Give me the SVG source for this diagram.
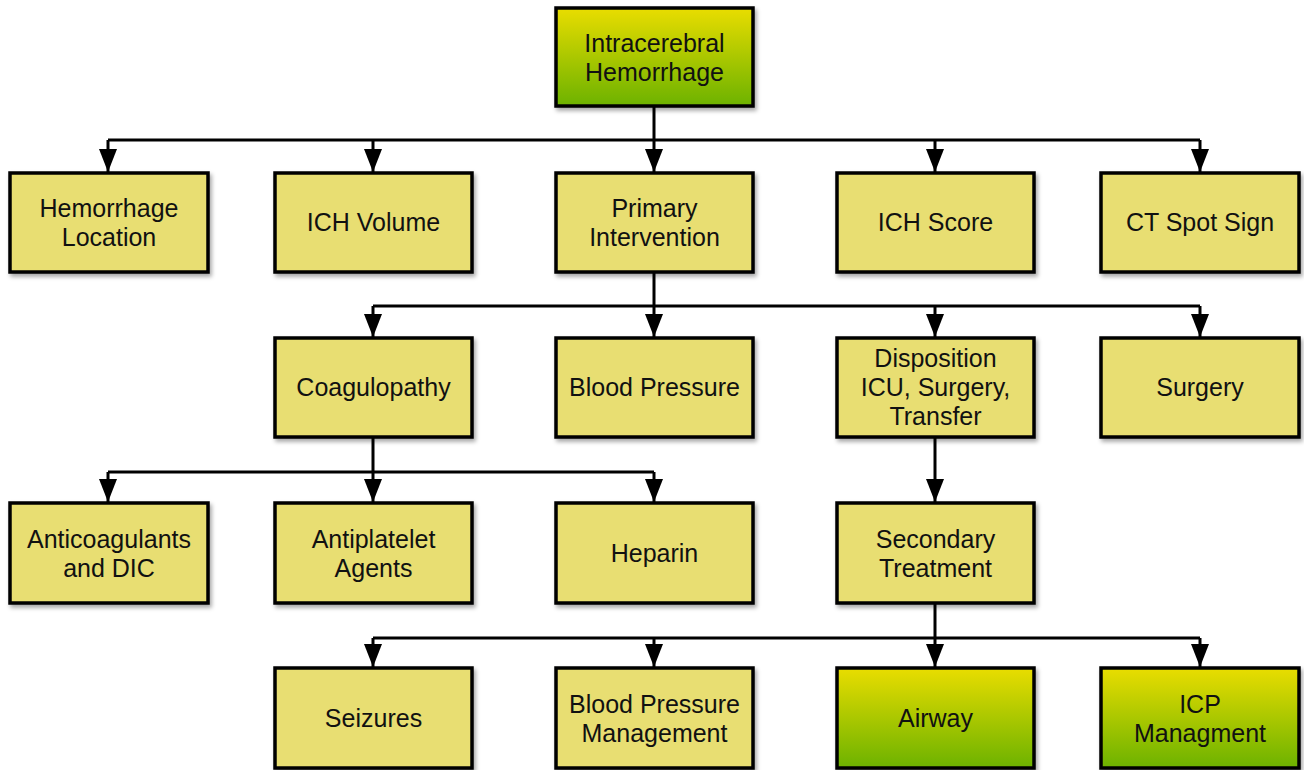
<svg xmlns="http://www.w3.org/2000/svg" width="1304" height="770" viewBox="0 0 1304 770">
<style>
.box{fill:#e8de72;stroke:#000;stroke-width:3.5;filter:url(#sh)}
.g{fill:url(#grn)}
text{font-family:"Liberation Sans",Arial,sans-serif;font-size:25px;fill:#111;text-anchor:middle}
.c{fill:none;stroke:#000;stroke-width:3}
</style>
<defs>
<linearGradient id="grn" x1="0" y1="0" x2="0" y2="1">
<stop offset="0" stop-color="#e9dd00"/>
<stop offset="1" stop-color="#6cb200"/>
</linearGradient>
<filter id="sh" x="-10%" y="-10%" width="125%" height="130%">
<feDropShadow dx="2" dy="3" stdDeviation="2" flood-color="#000" flood-opacity="0.35"/>
</filter>
<marker id="ah" markerUnits="userSpaceOnUse" markerWidth="24" markerHeight="20" refX="23" refY="9" orient="auto" viewBox="0 0 24 20">
<path d="M0,0 L23,9 L0,18 z" fill="#000"/>
</marker>
</defs>
<g id="connectors">
<path class="c" d="M654,107 V140 M108,140 H1200"/>
<path class="c" d="M108,140 V172" marker-end="url(#ah)"/>
<path class="c" d="M373,140 V172" marker-end="url(#ah)"/>
<path class="c" d="M654,140 V172" marker-end="url(#ah)"/>
<path class="c" d="M935,140 V172" marker-end="url(#ah)"/>
<path class="c" d="M1200,140 V172" marker-end="url(#ah)"/>
<path class="c" d="M654,272 V306 M373,306 H1200"/>
<path class="c" d="M373,306 V337" marker-end="url(#ah)"/>
<path class="c" d="M654,306 V337" marker-end="url(#ah)"/>
<path class="c" d="M935,306 V337" marker-end="url(#ah)"/>
<path class="c" d="M1200,306 V337" marker-end="url(#ah)"/>
<path class="c" d="M373,437 V472 M108,472 H654"/>
<path class="c" d="M108,472 V502" marker-end="url(#ah)"/>
<path class="c" d="M373,472 V502" marker-end="url(#ah)"/>
<path class="c" d="M654,472 V502" marker-end="url(#ah)"/>
<path class="c" d="M935,437 V502" marker-end="url(#ah)"/>
<path class="c" d="M935,603 V638 M373,638 H1200"/>
<path class="c" d="M373,638 V667" marker-end="url(#ah)"/>
<path class="c" d="M654,638 V667" marker-end="url(#ah)"/>
<path class="c" d="M935,638 V667" marker-end="url(#ah)"/>
<path class="c" d="M1200,638 V667" marker-end="url(#ah)"/>
</g>
<g id="n-ich"><rect class="box g" x="556" y="8" width="197" height="98"/><text x="654.5" y="52">Intracerebral</text><text x="654.5" y="81">Hemorrhage</text></g>
<g id="n-loc"><rect class="box" x="10" y="173" width="198" height="99"/><text x="109" y="217">Hemorrhage</text><text x="109" y="246">Location</text></g>
<g id="n-vol"><rect class="box" x="275" y="173" width="197" height="99"/><text x="373.5" y="231">ICH Volume</text></g>
<g id="n-pri"><rect class="box" x="556" y="173" width="197" height="99"/><text x="654.5" y="217">Primary</text><text x="654.5" y="246">Intervention</text></g>
<g id="n-score"><rect class="box" x="837" y="173" width="197" height="99"/><text x="935.5" y="231">ICH Score</text></g>
<g id="n-spot"><rect class="box" x="1101" y="173" width="198" height="99"/><text x="1200" y="231">CT Spot Sign</text></g>
<g id="n-coag"><rect class="box" x="275" y="338" width="197" height="99"/><text x="373.5" y="396">Coagulopathy</text></g>
<g id="n-bp"><rect class="box" x="556" y="338" width="197" height="99"/><text x="654.5" y="396">Blood Pressure</text></g>
<g id="n-disp"><rect class="box" x="837" y="338" width="197" height="99"/><text x="935.5" y="367">Disposition</text><text x="935.5" y="396">ICU, Surgery,</text><text x="935.5" y="425">Transfer</text></g>
<g id="n-surg"><rect class="box" x="1101" y="338" width="198" height="99"/><text x="1200" y="396">Surgery</text></g>
<g id="n-anti"><rect class="box" x="10" y="503" width="198" height="100"/><text x="109" y="548">Anticoagulants</text><text x="109" y="577">and DIC</text></g>
<g id="n-plat"><rect class="box" x="275" y="503" width="197" height="100"/><text x="373.5" y="548">Antiplatelet</text><text x="373.5" y="577">Agents</text></g>
<g id="n-hep"><rect class="box" x="556" y="503" width="197" height="100"/><text x="654.5" y="562">Heparin</text></g>
<g id="n-sec"><rect class="box" x="837" y="503" width="197" height="100"/><text x="935.5" y="548">Secondary</text><text x="935.5" y="577">Treatment</text></g>
<g id="n-seiz"><rect class="box" x="275" y="668" width="197" height="100"/><text x="373.5" y="727">Seizures</text></g>
<g id="n-bpm"><rect class="box" x="556" y="668" width="197" height="100"/><text x="654.5" y="713">Blood Pressure</text><text x="654.5" y="742">Management</text></g>
<g id="n-air"><rect class="box g" x="837" y="668" width="197" height="100"/><text x="935.5" y="727">Airway</text></g>
<g id="n-icp"><rect class="box g" x="1101" y="668" width="198" height="100"/><text x="1200" y="713">ICP</text><text x="1200" y="742">Managment</text></g>
</svg>
